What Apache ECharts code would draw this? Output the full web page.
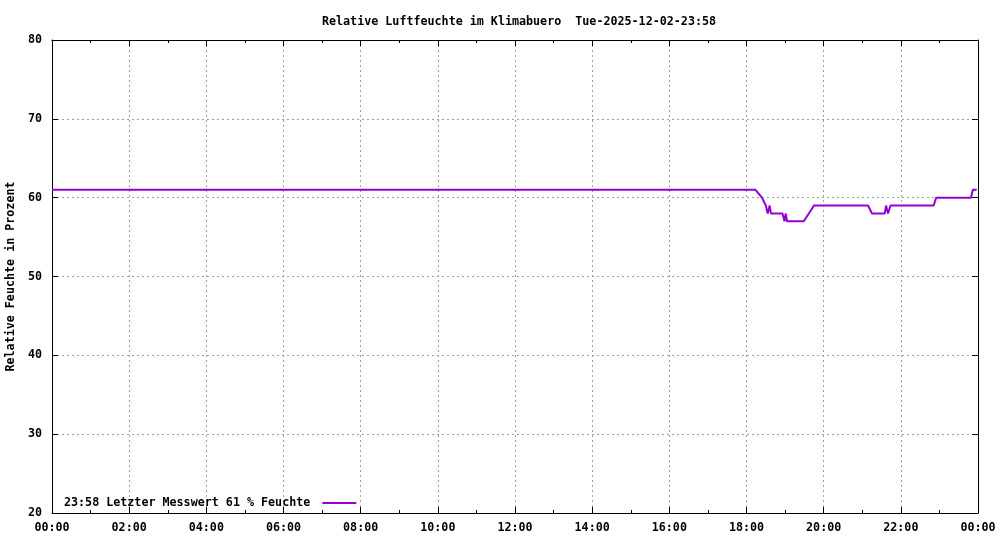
<!DOCTYPE html>
<html>
<head>
<meta charset="utf-8">
<script src="https://cdn.jsdelivr.net/npm/echarts@6/dist/echarts.min.js"></script>
<style>html,body{margin:0;padding:0;background:#fff}#c{width:1000px;height:540px}</style>
</head>
<body>
<div id="c"></div>
<script>
const titleText = "Relative Luftfeuchte im Klimabuero  Tue-2025-12-02-23:58";
const yAxisTitle = "Relative Feuchte in Prozent";
const seriesName = "23:58 Letzter Messwert 61 % Feuchte";
const times = ["00:00","18:14","18:24","18:30","18:33","18:36","18:38","18:56","18:59","19:01","19:03","19:29","19:37","19:40","19:45","21:09","21:15","21:35","21:37","21:40","21:43","21:44","22:51","22:55","23:49","23:52","23:58"];
const values = [61,61,60,59,58,59,58,58,57,58,57,57,58,58,59,59,58,58,59,58,58,59,59,60,60,61,61];
const yTicks = [20,30,40,50,60,70,80];

const toHours = s => { const p = s.split(":"); return +p[0] + (+p[1]) / 60; };
const data = times.map((t, i) => [toHours(t), values[i]]);
const pad = n => (n < 10 ? "0" : "") + n;
const font = "DejaVu Sans Mono";
const txt = { fontFamily: font, fontWeight: "bold", fontSize: 11.7, color: "#000" };
const purple = "#9400d3";

const baseX = {
  type: "value", min: 0, max: 24, interval: 2,
  axisLine: { show: true, onZero: false, lineStyle: { color: "#000", width: 1 } },
  axisTick: { show: true, inside: true, length: 6, lineStyle: { color: "#000" } },
  minorTick: { show: true, splitNumber: 2, length: 3, lineStyle: { color: "#000" } },
  splitLine: { show: false },
};
const baseY = {
  type: "value", min: 20, max: 80, interval: 10,
  axisLine: { show: true, onZero: false, lineStyle: { color: "#000", width: 1 } },
  axisTick: { show: true, inside: true, length: 6, lineStyle: { color: "#000" } },
  splitLine: { show: false },
};

const chart = echarts.init(document.getElementById("c"), null, { renderer: "canvas" });
chart.setOption({
  animation: false,
  backgroundColor: "#fff",
  title: {
    text: titleText, left: 514, top: 11, textAlign: "center",
    textStyle: Object.assign({}, txt)
  },
  grid: { left: 52, right: 22, top: 40, bottom: 27, containLabel: false, outerBoundsMode: "none" },
  legend: {
    left: 59, top: 492, align: "right", itemWidth: 34, itemHeight: 2, itemGap: 0,
    icon: "rect",
    formatter: n => n + " ",
    textStyle: Object.assign({}, txt),
    data: [seriesName]
  },
  xAxis: [
    Object.assign({}, baseX, {
      position: "bottom",
      axisLabel: Object.assign({ margin: 9, formatter: v => pad(v % 24) + ":00" }, txt),
      splitLine: { show: true, lineStyle: { color: "#a0a0a0", type: [2, 3], width: 1 } }
    }),
    Object.assign({}, baseX, { position: "top", axisLabel: { show: false } })
  ],
  yAxis: [
    Object.assign({}, baseY, {
      position: "left",
      name: yAxisTitle, nameLocation: "middle", nameRotate: 90, nameGap: 29,
      nameTextStyle: Object.assign({}, txt),
      axisLabel: Object.assign({ margin: 10, formatter: v => yTicks.includes(v) ? String(v) : "" }, txt),
      splitLine: { show: true, lineStyle: { color: "#a0a0a0", type: [2, 3], width: 1 } }
    }),
    Object.assign({}, baseY, { position: "right", axisLabel: { show: false } })
  ],
  series: [{
    name: seriesName, type: "line", xAxisIndex: 0, yAxisIndex: 0,
    data: data, showSymbol: false, symbol: "none",
    lineStyle: { color: purple, width: 2 }, itemStyle: { color: purple }
  }]
});
</script>
</body>
</html>
